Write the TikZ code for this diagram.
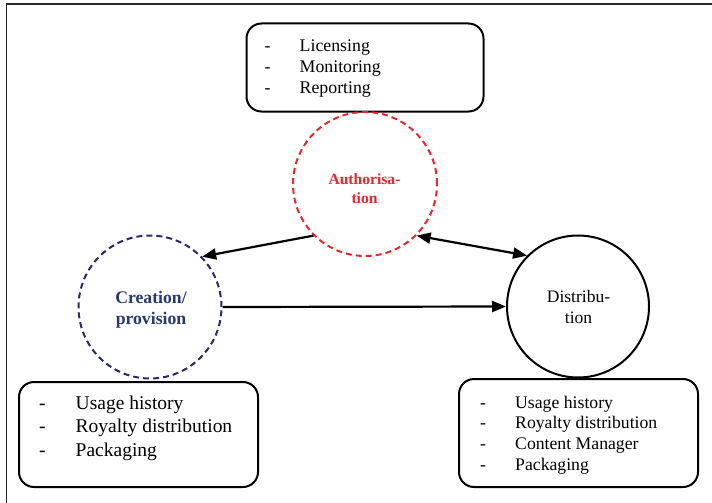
\documentclass[tikz,border=0pt]{standalone}
\usepackage{fontspec}
\setmainfont{Liberation Serif}
\usetikzlibrary{arrows.meta}
\definecolor{authred}{RGB}{232,38,44}
\definecolor{navyline}{RGB}{40,40,112}
\definecolor{navytext}{RGB}{38,58,110}
\tikzset{
  listbox/.style={draw=black, line width=2pt, rounded corners=15pt, inner sep=0pt},
  listtext/.style={anchor=base west, inner sep=0pt},
  phasetext/.style={anchor=base, inner sep=0pt},
  phase/.style={circle, line width=2pt, inner sep=0pt},
  conn/.style={line width=2.2pt, -{Triangle[length=14pt,width=11pt]}},
  conn2/.style={line width=2.2pt, {Triangle[length=14pt,width=11pt]}-{Triangle[length=14pt,width=11pt]}},
  frameline/.style={line width=1.8pt, black!85}
}
\begin{document}
\begin{tikzpicture}[x=1pt,y=-1pt]
\useasboundingbox (0,0) rectangle (712,503);
% frame
\coordinate (fbl) at (6.5,503);
\coordinate (ftl) at (6.5,4);
\coordinate (ftr) at (712,4);
\draw[frameline] (fbl) -- (ftl) -- (ftr);

% boxes
\node[listbox, minimum width=237pt, minimum height=88pt] (topbox) at (365,67.5) {};
\node[listbox, minimum width=239pt, minimum height=105pt] (blbox) at (138.5,434.5) {};
\node[listbox, minimum width=239pt, minimum height=108pt] (brbox) at (578.5,433) {};

\node[listtext, font=\fontsize{17.8}{20.8}\selectfont] (toptext) at (264.5,51.7)
  {\begin{tabular}[t]{@{}p{35pt}@{}l@{}}-&Licensing\\-&Monitoring\\-&Reporting\end{tabular}};
\node[listtext, font=\fontsize{19.5}{23.4}\selectfont] (bltext) at (39,409.3)
  {\begin{tabular}[t]{@{}p{36.5pt}@{}l@{}}-&Usage history\\-&Royalty distribution\\-&Packaging\end{tabular}};
\node[listtext, font=\fontsize{17.7}{20.6}\selectfont] (brtext) at (480,408.3)
  {\begin{tabular}[t]{@{}p{35pt}@{}l@{}}-&Usage history\\-&Royalty distribution\\-&Content Manager\\-&Packaging\end{tabular}};

% circles
\node[phase, draw=authred, dash pattern=on 6pt off 4pt, minimum size=144pt] (auth) at (365,184) {};
\node[phase, draw=navyline, dash pattern=on 6pt off 4pt, minimum size=143pt] (crea) at (150,307) {};
\node[phase, draw=black, minimum size=142pt] (dist) at (578,306.5) {};

\node[phasetext, text=authred, font=\bfseries\fontsize{15.6}{18.6}\selectfont] (authtext) at (364.5,184.5)
  {\begin{tabular}[t]{@{}c@{}}Authorisa-\\tion\end{tabular}};
\node[phasetext, text=navytext, font=\bfseries\fontsize{17.7}{21}\selectfont] (creatext) at (151,303.5)
  {\begin{tabular}[t]{@{}c@{}}Creation/\\provision\end{tabular}};
\node[phasetext, font=\fontsize{17.5}{20.8}\selectfont] (disttext) at (578.5,302.7)
  {\begin{tabular}[t]{@{}c@{}}Distribu-\\tion\end{tabular}};

% connectors
\draw[conn] (auth.225) -- (crea.44);
\draw[conn2] (auth.-45) -- (dist.135);
\draw[conn] (crea.east) -- (dist.west);
\end{tikzpicture}
\end{document}
